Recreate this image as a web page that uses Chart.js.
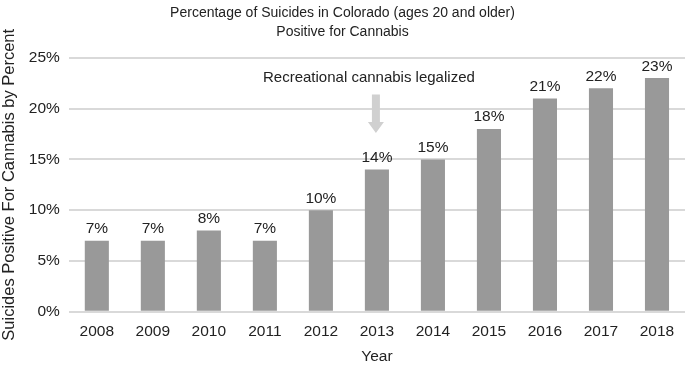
<!DOCTYPE html>
<html>
<head>
<meta charset="utf-8">
<script src="https://cdn.jsdelivr.net/npm/chart.js@4"></script>
<style>
  html, body { margin: 0; padding: 0; background: #fff; }
  #wrap { width: 685px; height: 368px; }
</style>
</head>
<body>
<div id="wrap"><canvas id="chart"></canvas></div>
<script>
const years = ["2008", "2009", "2010", "2011", "2012", "2013", "2014", "2015", "2016", "2017", "2018"];
const percentPositive = [7, 7, 8, 7, 10, 14, 15, 18, 21, 22, 23];
const titleLines = ["Percentage of Suicides in Colorado (ages 20 and older)", "Positive for Cannabis"];
const noteText = "Recreational cannabis legalized";
const noteYear = "2013";

const FONT = "'Liberation Sans', Arial, sans-serif";
const TEXT = "#222";

// labels over the bars + the legalization arrow
const overlay = {
  id: "overlay",
  afterDatasetsDraw(chart) {
    const ctx = chart.ctx;
    const meta = chart.getDatasetMeta(0);
    ctx.save();
    ctx.font = "15.5px " + FONT;
    ctx.fillStyle = TEXT;
    ctx.textAlign = "center";
    ctx.textBaseline = "bottom";
    meta.data.forEach((bar, i) => {
      ctx.fillText(percentPositive[i] + "%", bar.x, bar.y - 4);
    });

    const xs = chart.scales.x, ys = chart.scales.y;
    const ax = xs.getPixelForValue(years.indexOf(noteYear)) - 1;
    const top = ys.getPixelForValue(21.4);
    const bot = ys.getPixelForValue(17.6);
    const head = 11;
    ctx.fillStyle = "#d0d0d0";
    ctx.beginPath();
    ctx.moveTo(ax - 4, top);
    ctx.lineTo(ax + 4, top);
    ctx.lineTo(ax + 4, bot - head);
    ctx.lineTo(ax + 8, bot - head);
    ctx.lineTo(ax, bot);
    ctx.lineTo(ax - 8, bot - head);
    ctx.lineTo(ax - 4, bot - head);
    ctx.closePath();
    ctx.fill();

    ctx.fillStyle = TEXT;
    ctx.font = "15px " + FONT;
    ctx.textBaseline = "middle";
    ctx.fillText(noteText, ax - 7, ys.getPixelForValue(23.0));
    ctx.restore();
  }
};

new Chart(document.getElementById("chart"), {
  type: "bar",
  data: {
    labels: years,
    datasets: [{
      data: percentPositive,
      backgroundColor: "#999999",
      barPercentage: 0.43,
      categoryPercentage: 1.0
    }]
  },
  options: {
    responsive: true,
    maintainAspectRatio: false,
    animation: false,
    layout: { padding: { left: 0, right: 0, top: 0, bottom: 2 } },
    plugins: {
      legend: { display: false },
      tooltip: { enabled: false },
      title: {
        display: true,
        text: titleLines,
        color: TEXT,
        font: { family: FONT, size: 14, weight: "normal", lineHeight: 1.35 },
        padding: { top: 4, bottom: 16 }
      }
    },
    scales: {
      x: {
        grid: { display: false },
        border: { display: false },
        ticks: { color: TEXT, font: { family: FONT, size: 15.5 }, padding: 3 },
        title: { display: true, text: "Year", color: TEXT, font: { family: FONT, size: 15.5 }, padding: { top: 3, bottom: 0 } }
      },
      y: {
        min: 0,
        max: 25,
        ticks: {
          stepSize: 5,
          color: TEXT,
          font: { family: FONT, size: 15.5 },
          padding: 9,
          callback: v => v + "%"
        },
        grid: { color: "#d9d9d9", lineWidth: 2, drawTicks: false },
        border: { display: false },
        title: { display: true, text: "Suicides Positive For Cannabis by Percent", color: TEXT, font: { family: FONT, size: 16.5 }, padding: { top: 0, bottom: 0 } }
      }
    }
  },
  plugins: [overlay]
});
</script>
</body>
</html>
